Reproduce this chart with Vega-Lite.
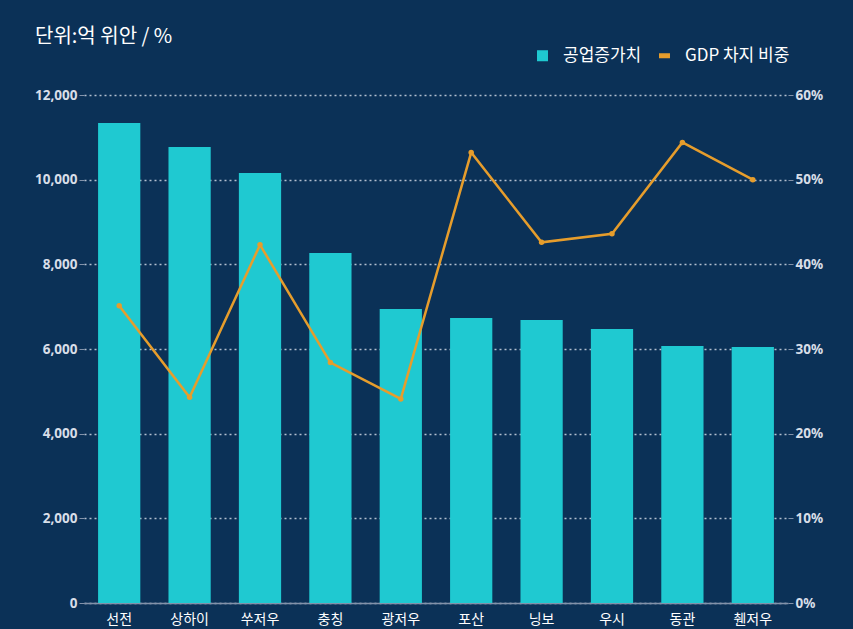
{
  "$schema": "https://vega.github.io/schema/vega-lite/v6.json",
  "autosize": "none",
  "width": 704,
  "height": 508,
  "padding": {"left": 84, "top": 95, "right": 65, "bottom": 26},
  "background": "#0b3157",
  "title": {
    "text": "단위:억 위안 / %",
    "anchor": "start",
    "frame": "group",
    "orient": "top",
    "dx": -49,
    "offset": 0,
    "font": "Noto Sans CJK KR",
    "fontSize": 20,
    "fontWeight": "normal",
    "color": "#ffffff"
  },
  "config": {
    "view": {"stroke": null},
    "axis": {"titleFontSize": 0}
  },
  "data": {
    "values": [
      {"city": "선전", "value": 11340, "share": 0.351},
      {"city": "상하이", "value": 10770, "share": 0.243},
      {"city": "쑤저우", "value": 10160, "share": 0.423},
      {"city": "충칭", "value": 8270, "share": 0.284},
      {"city": "광저우", "value": 6945, "share": 0.241},
      {"city": "포산", "value": 6730, "share": 0.532},
      {"city": "닝보", "value": 6685, "share": 0.426},
      {"city": "우시", "value": 6470, "share": 0.436},
      {"city": "동관", "value": 6070, "share": 0.544},
      {"city": "췐저우", "value": 6050, "share": 0.500}
    ]
  },
  "encoding": {
    "x": {
      "field": "city",
      "type": "nominal",
      "sort": null,
      "title": null,
      "scale": {"paddingInner": 0.4, "paddingOuter": 0.2},
      "axis": {
        "labelAngle": 0,
        "labelFont": "Noto Sans CJK KR",
        "labelFontSize": 14,
        "labelColor": "#ffffff",
        "labelPadding": 9,
        "ticks": false,
        "domainColor": "#8392aa",
        "domainWidth": 1.5,
        "grid": false
      }
    }
  },
  "layer": [
    {
      "mark": {"type": "bar"},
      "encoding": {
        "y": {
          "field": "value",
          "type": "quantitative",
          "title": null,
          "scale": {"domain": [0, 12000]},
          "axis": {
            "values": [0, 2000, 4000, 6000, 8000, 10000, 12000],
            "format": ",.0f",
            "grid": true,
            "gridDash": [2, 3],
            "gridColor": "#d0d8e4",
            "gridOpacity": 0.85,
            "gridWidth": 1.5,
            "domain": false,
            "ticks": true,
            "tickSize": 5,
            "tickColor": "#8392aa",
            "labelFont": "Noto Sans",
            "labelFontWeight": "bold",
            "labelFontSize": 13.5,
            "labelColor": "#d8dee8",
            "labelPadding": 2
          }
        },
        "color": {
          "datum": "공업증가치",
          "type": "nominal",
          "scale": {"domain": ["공업증가치", "GDP 차지 비중"], "range": ["#1fc9d1", "#e69d2c"]},
          "legend": {
            "orient": "none",
            "direction": "horizontal",
            "legendX": 450,
            "legendY": -48,
            "title": null,
            "labelColor": "#ffffff",
            "labelFont": "Noto Sans CJK KR",
            "labelFontSize": 17,
            "labelOffset": 12,
            "symbolSize": 90,
            "columnPadding": 14,
            "encode": {
              "symbols": {
                "update": {
                  "shape": {"signal": "datum.value === '공업증가치' ? 'square' : 'M-1,-0.35H1V0.35H-1Z'"},
                  "fill": {"scale": "color", "field": "value"},
                  "stroke": {"value": "transparent"}
                }
              }
            }
          }
        }
      }
    },
    {
      "mark": {"type": "line", "strokeWidth": 2.5, "point": {"filled": true, "size": 30}},
      "encoding": {
        "y": {
          "field": "share",
          "type": "quantitative",
          "title": null,
          "scale": {"domain": [0, 0.6]},
          "axis": {
            "orient": "right",
            "values": [0, 0.1, 0.2, 0.3, 0.4, 0.5, 0.6],
            "format": ".0%",
            "grid": false,
            "domain": false,
            "ticks": true,
            "tickSize": 5,
            "tickColor": "#8392aa",
            "labelFont": "Noto Sans",
            "labelFontWeight": "bold",
            "labelFontSize": 13.5,
            "labelColor": "#d8dee8",
            "labelPadding": 2
          }
        },
        "color": {"datum": "GDP 차지 비중", "type": "nominal"}
      }
    }
  ],
  "resolve": {"scale": {"y": "independent"}}
}
